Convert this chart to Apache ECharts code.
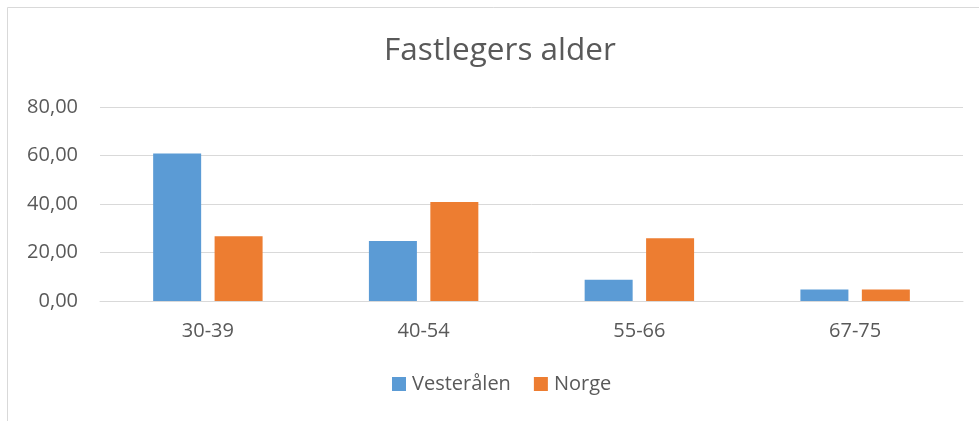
<!DOCTYPE html>
<html><head><meta charset="utf-8">
<script src="https://cdn.jsdelivr.net/npm/echarts@6/dist/echarts.min.js"></script>
<style>html,body{margin:0;padding:0;background:#fff}#c{width:979px;height:421px}</style>
</head><body><div id="c"></div>
<script>
const categories = ['30-39', '40-54', '55-66', '67-75'];
const vesteraalen = [60.8, 24.7, 8.8, 4.7];
const norge = [26.7, 40.8, 25.9, 4.7];
const yTicks = [0, 20, 40, 60, 80];

const chart = echarts.init(document.getElementById('c'), null, {renderer: 'canvas'});
const font = '"Open Sans", "Liberation Sans", sans-serif';
chart.setOption({
  animation: false,
  backgroundColor: '#fff',
  graphic: [{type: 'rect', shape: {x: 7.5, y: 7.5, width: 990, height: 430}, style: {fill: 'none', stroke: '#d9d9d9', lineWidth: 1}, silent: true}],
  title: {text: 'Fastlegers alder', left: 500, textAlign: 'center', top: 35, padding: 0, textStyle: {fontFamily: font, fontSize: 31.5, fontWeight: 'normal', color: '#595959'}},
  legend: {top: 374, left: 392, padding: 0, itemWidth: 14, itemHeight: 14, itemGap: 23, icon: 'rect',
    textStyle: {fontFamily: font, fontSize: 20, color: '#595959', padding: [0,0,0,1]}},
  grid: {left: 100, right: 16, top: 107, bottom: 120, containLabel: false},
  xAxis: {type: 'category', data: categories,
    axisLine: {lineStyle: {color: '#d9d9d9', width: 1}}, axisTick: {show: false},
    axisLabel: {fontFamily: font, fontSize: 20, color: '#595959', margin: 20}},
  yAxis: {type: 'value', min: yTicks[0], max: yTicks[yTicks.length-1], interval: 20,
    axisLine: {show: false}, axisTick: {show: false},
    splitLine: {lineStyle: {color: '#d9d9d9', width: 1}},
    axisLabel: {fontFamily: font, fontSize: 20, color: '#595959', margin: 22, formatter: v => v.toFixed(2).replace('.', ',')}},
  series: [
    {name: 'Vesterålen', type: 'bar', data: vesteraalen, barWidth: 48, barGap: '28%', itemStyle: {color: '#5b9bd5'}},
    {name: 'Norge', type: 'bar', data: norge, barWidth: 48, itemStyle: {color: '#ed7d31'}}
  ]
});
</script></body></html>
